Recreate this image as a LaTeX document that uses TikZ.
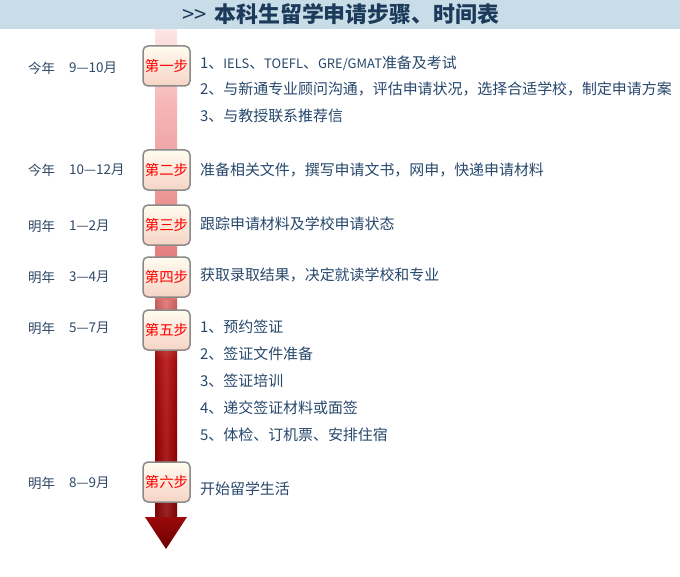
\documentclass[tikz,border=0pt]{standalone}
\usepackage{fontspec}
\setmainfont{Noto Sans CJK SC}
\definecolor{barc}{HTML}{C8DDE7}
\definecolor{titc}{HTML}{1C3A5A}
\definecolor{txtc}{HTML}{27486C}
\definecolor{datec}{HTML}{2E4866}
\definecolor{boxb}{HTML}{8A8A8A}
\definecolor{boxt}{HTML}{FFFCF0}
\definecolor{boxm}{HTML}{FFF2C2}
\definecolor{boxbt}{HTML}{F6D4C4}
\definecolor{sa}{HTML}{FCE6E6}
\definecolor{sb}{HTML}{F6B8B8}
\definecolor{sc}{HTML}{EC9494}
\definecolor{sd}{HTML}{DE6C6C}
\definecolor{se}{HTML}{B40A0A}
\definecolor{sf}{HTML}{A00000}
\definecolor{sg}{HTML}{8A0606}
\definecolor{ha}{HTML}{9A0A0A}
\definecolor{hb}{HTML}{6E0000}
\newcommand{\lat}[1]{{\fontsize{13}{16}\selectfont #1}}
\begin{document}
\begin{tikzpicture}[x=1bp,y=-1bp,
  txt/.style={text=txtc,font=\fontsize{15}{17}\selectfont,inner sep=0pt,anchor=west},
  datel/.style={text=datec,font=\fontsize{13.5}{15}\selectfont,inner sep=0pt,anchor=west},
  stepbox/.style={draw=boxb,line width=1.5bp,rounded corners=5bp,minimum width=47bp,
    minimum height=40bp,inner sep=0pt,top color=boxt,middle color=boxm,bottom color=boxbt,
    text=red,font=\fontsize{14.5}{16}\selectfont}]
\useasboundingbox (0,0) rectangle (680,577);
\fill[white] (0,0) rectangle (680,577);
% title bar
\fill[barc] (0,0) rectangle (680,29);
\node[text=titc,font=\fontsize{22}{24}\selectfont,inner sep=0pt] (title) at (341,14.5) {{\mdseries{>}{>}}\,\,{\bfseries 本科生留学申请步骤、时间表}};
% shaft
\shade[top color=sa,bottom color=sb] (155,30) rectangle (177,100.5);
\shade[top color=sb,bottom color=sc] (155,100) rectangle (177,200.5);
\shade[top color=sc,bottom color=sd] (155,200) rectangle (177,305.5);
\shade[top color=sd,bottom color=se] (155,305) rectangle (177,360.5);
\shade[top color=se,bottom color=sf] (155,360) rectangle (177,450.5);
\shade[top color=sf,bottom color=sg] (155,450) rectangle (177,517.5);
\shade[left color=black,right color=black,middle color=white,opacity=0.12] (155,300) rectangle (177,517);
\shade[top color=ha,bottom color=hb] (145,517) -- (187,517) -- (166,549) -- cycle;
% step boxes
\node[stepbox] (s1) at (166.5,66) {第一步};
\node[stepbox] (s2) at (166.5,170) {第二步};
\node[stepbox] (s3) at (166.5,225) {第三步};
\node[stepbox] (s4) at (166.5,277) {第四步};
\node[stepbox] (s5) at (166.5,330) {第五步};
\node[stepbox] (s6) at (166.5,482) {第六步};
% dates
\node[datel] (y1) at (28,68) {今年};  \node[datel] (m1) at (69,68) {9—10月};
\node[datel] (y2) at (28,170) {今年}; \node[datel] (m2) at (69,170) {10—12月};
\node[datel] (y3) at (28,226) {明年}; \node[datel] (m3) at (69,226) {1—2月};
\node[datel] (y4) at (28,277) {明年}; \node[datel] (m4) at (69,277) {3—4月};
\node[datel] (y5) at (28,328) {明年}; \node[datel] (m5) at (69,328) {5—7月};
\node[datel] (y6) at (28,483) {明年}; \node[datel] (m6) at (69,483) {8—9月};
% texts
\node[txt] (t11) at (200,63) {1、\lat{IELS}、\lat{TOEFL}、\lat{GRE/GMAT}准备及考试};
\node[txt] (t12) at (200,89) {2、与新通专业顾问沟通，评估申请状况，选择合适学校，制定申请方案};
\node[txt] (t13) at (200,116) {3、与教授联系推荐信};
\node[txt] (t2) at (200,170) {准备相关文件，撰写申请文书，网申，快递申请材料};
\node[txt] (t3) at (200,224) {跟踪申请材料及学校申请状态};
\node[txt] (t4) at (200,275) {获取录取结果，决定就读学校和专业};
\node[txt] (t51) at (200,327) {1、预约签证};
\node[txt] (t52) at (200,354) {2、签证文件准备};
\node[txt] (t53) at (200,381) {3、签证培训};
\node[txt] (t54) at (200,408) {4、递交签证材料或面签};
\node[txt] (t55) at (200,435) {5、体检、订机票、安排住宿};
\node[txt] (t6) at (200,489) {开始留学生活};
\end{tikzpicture}
\end{document}
